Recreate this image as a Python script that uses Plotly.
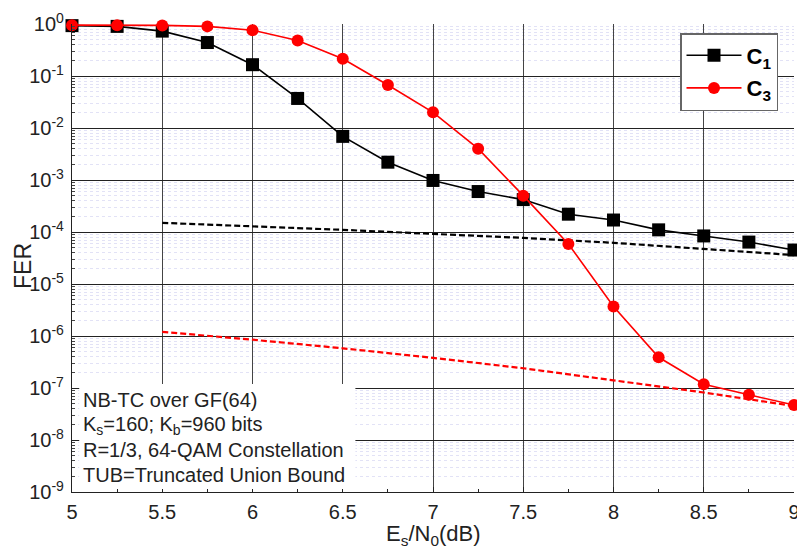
import plotly.graph_objects as go

snr = [5.0, 5.25, 5.5, 5.75, 6.0, 6.25, 6.5, 6.75, 7.0, 7.25, 7.5, 7.75, 8.0, 8.25, 8.5, 8.75, 9.0]
fer_c1 = [0.93, 0.9, 0.73, 0.44, 0.165, 0.037, 0.0069, 0.0022, 0.00098, 0.0006, 0.00042,
          0.00022, 0.00017, 0.00011, 8.4e-5, 6.4e-5, 4.5e-5]
fer_c3 = [0.95, 0.95, 0.94, 0.9, 0.76, 0.48, 0.215, 0.067, 0.02, 0.004, 0.0005,
          5.9e-5, 3.7e-6, 3.9e-7, 1.18e-7, 7.4e-8, 4.7e-8]

snr_tub = [5.5, 6.0, 6.5, 7.0, 7.5, 8.0, 8.5, 9.0]
tub_c1 = [1.5e-4, 1.3e-4, 1.1e-4, 9.2e-5, 7.7e-5, 6.2e-5, 4.8e-5, 3.6e-5]
tub_c3 = [1.2e-6, 8.5e-7, 5.8e-7, 3.8e-7, 2.4e-7, 1.4e-7, 8.2e-8, 4.5e-8]

x_ticks = [5, 5.5, 6, 6.5, 7, 7.5, 8, 8.5, 9]
x_ticklabels = ["5", "5.5", "6", "6.5", "7", "7.5", "8", "8.5", "9"]
y_exps = [0, -1, -2, -3, -4, -5, -6, -7, -8, -9]
info_lines = ["NB-TC over GF(64)",
              "K<sub>s</sub>=160; K<sub>b</sub>=960 bits",
              "R=1/3, 64-QAM Constellation",
              "TUB=Truncated Union Bound"]

FONT = "Liberation Sans, Arial, sans-serif"
TXT = "#222222"

W, H = 797, 551
# plot area in window pixels: x 72..794, y 24..492
PL, PR, PT, PB = 72, 794, 24, 492


def py(ypix):
    return (PB - ypix) / (PB - PT)


def px(xpix):
    return (xpix - PL) / (PR - PL)


fig = go.Figure()
fig.add_trace(go.Scatter(x=snr_tub, y=tub_c1, mode="lines", showlegend=False,
                         line=dict(color="black", width=2.2, dash="6px,3px")))
fig.add_trace(go.Scatter(x=snr_tub, y=tub_c3, mode="lines", showlegend=False,
                         line=dict(color="#ff0000", width=2.2, dash="6px,3px")))
fig.add_trace(go.Scatter(x=snr, y=fer_c1, mode="lines+markers", name="C<sub>1</sub>",
                         legendgroup="c1", cliponaxis=False,
                         line=dict(color="black", width=1.6),
                         marker=dict(symbol="square", size=13, color="black")))
fig.add_trace(go.Scatter(x=snr, y=fer_c3, mode="lines+markers", name="C<sub>3</sub>",
                         legendgroup="c3", cliponaxis=False,
                         line=dict(color="#ff0000", width=1.6),
                         marker=dict(symbol="circle", size=12, color="#ff0000")))

major_vals = [10.0 ** e for e in y_exps]
major_text = ["10<sup>%d</sup>" % e for e in y_exps]
minor_vals = [k * 10.0 ** e for e in range(-9, 0) for k in range(2, 10)]

fig.update_xaxes(range=[5, 9], tickmode="array", tickvals=x_ticks, ticktext=x_ticklabels,
                 automargin=False, ticklabeloverflow="allow",
                 showgrid=True, gridcolor="#444444", gridwidth=1,
                 showline=True, linecolor=TXT, linewidth=1.2,
                 ticks="inside", ticklen=5, tickcolor=TXT,
                 minor=dict(dtick=0.25, ticks="inside", ticklen=3, tickcolor=TXT, showgrid=False),
                 tickfont=dict(family=FONT, size=20, color=TXT),
                 ticklabelstandoff=2,
                 zeroline=False)
fig.update_yaxes(type="log", range=[-9, 0], tickmode="array", tickvals=major_vals, ticktext=major_text,
                 automargin=False, ticklabeloverflow="allow",
                 showgrid=True, gridcolor=TXT, gridwidth=1,
                 showline=True, linecolor=TXT, linewidth=1.2,
                 ticks="inside", ticklen=5, tickcolor=TXT,
                 minor=dict(tickmode="array", tickvals=minor_vals, ticks="inside", ticklen=3,
                            tickcolor="#444444", showgrid=True, gridcolor="#e2e2f6",
                            griddash="dot", gridwidth=1),
                 tickfont=dict(family=FONT, size=20, color=TXT),
                 ticklabelstandoff=3,
                 zeroline=False)

# axis titles
fig.add_annotation(text="E<sub>s</sub>/N<sub>0</sub>(dB)", xref="paper", yref="paper",
                   x=px(433), y=py(535), xanchor="center", yanchor="middle", showarrow=False,
                   font=dict(family=FONT, size=22, color=TXT))
fig.add_annotation(text="FER", xref="paper", yref="paper", textangle=-90,
                   x=px(23), y=py(266), xanchor="center", yanchor="middle", showarrow=False,
                   font=dict(family=FONT, size=23, color=TXT))

# info box
fig.add_shape(type="rect", xref="x", yref="paper", x0=5.04, x1=6.57,
              y0=py(489), y1=py(384),
              fillcolor="white", line=dict(width=0), layer="above")
line_y = [400, 425, 450, 475]
for txt, yy in zip(info_lines, line_y):
    fig.add_annotation(text=txt, xref="paper", yref="paper", x=px(81), y=py(yy),
                       xanchor="left", yanchor="middle", showarrow=False,
                       font=dict(family=FONT, size=20, color=TXT))

fig.update_layout(
    width=W, height=H,
    margin=dict(l=PL, r=W - PR, t=PT, b=H - PB),
    paper_bgcolor="white", plot_bgcolor="white",
    font=dict(family=FONT, color=TXT),
    legend=dict(x=px(680), y=py(33), xanchor="left", yanchor="top",
                bgcolor="white", bordercolor="#666666", borderwidth=1.5,
                font=dict(family=FONT, size=22, color="black", weight="bold"),
                itemwidth=55, tracegroupgap=1),
)

fig.write_html("out.html", config={"displayModeBar": False},
               post_script="document.body.style.margin='0';document.body.style.overflow='hidden';")
